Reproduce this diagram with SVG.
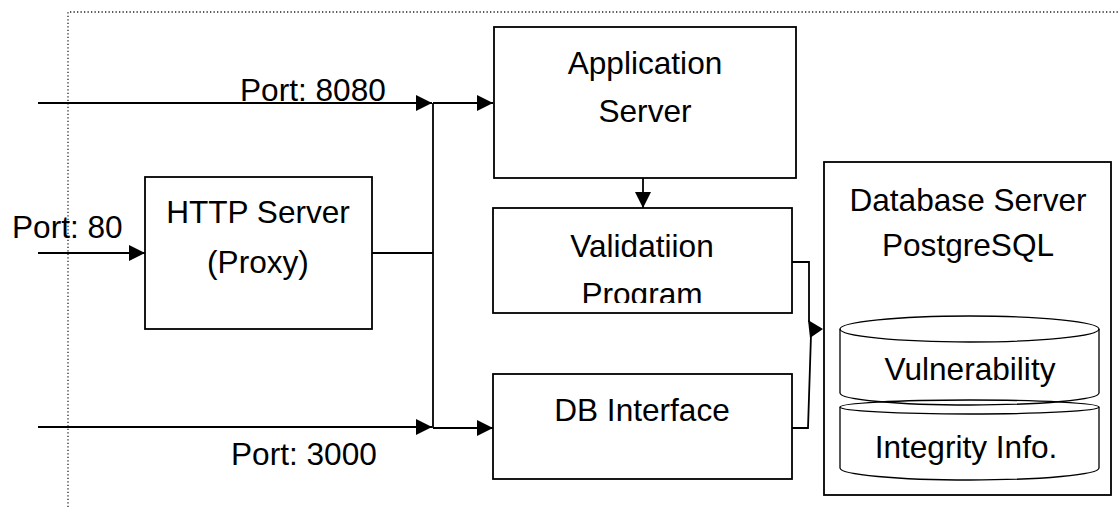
<svg xmlns="http://www.w3.org/2000/svg" width="1118" height="507" viewBox="0 0 1118 507">
<style>
.box{fill:#fff;stroke:#000;stroke-width:1.8}
.ln{fill:none;stroke:#000;stroke-width:1.8}
.cyl{fill:none;stroke:#000;stroke-width:1.3}
text{font-family:"Liberation Sans",Arial,sans-serif;font-size:31.6px;fill:#000}
.c{text-anchor:middle}
</style>
<defs>
<marker id="ah" viewBox="0 0 16 16" refX="16" refY="8" markerWidth="16" markerHeight="16" markerUnits="userSpaceOnUse" orient="auto">
<path d="M0,0 L16,8 L0,16 Z" fill="#000"/>
</marker>
<clipPath id="vclip"><rect x="493" y="208" width="299" height="95"/></clipPath>
</defs>
<rect x="0" y="0" width="1118" height="507" fill="#fff"/>
<path d="M68,507 V12 H1118" fill="none" stroke="#222" stroke-width="1.3" stroke-dasharray="1.3 2.2"/>

<g id="connectors">
<path class="ln" d="M38,103 H432" marker-end="url(#ah)"/>
<path class="ln" d="M433,103 H493" marker-end="url(#ah)"/>
<path class="ln" d="M38,253 H145" marker-end="url(#ah)"/>
<path class="ln" d="M372,253 H433"/>
<path class="ln" d="M433,103 V428"/>
<path class="ln" d="M38,427 H432" marker-end="url(#ah)"/>
<path class="ln" d="M433,428 H493" marker-end="url(#ah)"/>
<path class="ln" d="M643,178 V208" marker-end="url(#ah)"/>
<path class="ln" d="M792,262 H809 V322"/>
<path class="ln" d="M792,428 H808 L811,335"/>
<polygon points="808,320 823,329 810,338" fill="#000"/>
<text x="240" y="101">Port: 8080</text>
<text x="12" y="238">Port: 80</text>
<text x="231" y="465">Port: 3000</text>
</g>

<g id="app-server">
<rect class="box" x="494" y="27" width="302" height="151"/>
<text class="c" x="645" y="74">Application</text>
<text class="c" x="645" y="122">Server</text>
</g>

<g id="http-server">
<rect class="box" x="145" y="177" width="227" height="152"/>
<text class="c" x="258" y="223">HTTP Server</text>
<text class="c" x="258" y="273">(Proxy)</text>
</g>

<g id="validation">
<rect class="box" x="493" y="208" width="299" height="105"/>
<g clip-path="url(#vclip)">
<text class="c" x="642" y="257">Validatiion</text>
<text class="c" x="642" y="305">Program</text>
</g>
</g>

<g id="db-interface">
<rect class="box" x="493" y="374" width="299" height="105"/>
<text class="c" x="642" y="421">DB Interface</text>
</g>

<g id="db-server">
<rect class="box" x="824" y="162" width="287" height="333"/>
<text class="c" x="968" y="211">Database Server</text>
<text class="c" x="968" y="256">PostgreSQL</text>
</g>

<g id="vulnerability">
<ellipse class="cyl" cx="969.5" cy="329" rx="129.5" ry="13"/>
<path class="cyl" d="M840,329 V393 A129.5,12 0 0 0 1099,393 V329"/>
<text class="c" x="970" y="380">Vulnerability</text>
</g>

<g id="integrity">
<ellipse class="cyl" cx="969.5" cy="407" rx="129.5" ry="7"/>
<path class="cyl" d="M840,407 V468 A129.5,12 0 0 0 1099,468 V407"/>
<text class="c" x="966" y="458">Integrity Info.</text>
</g>
</svg>
